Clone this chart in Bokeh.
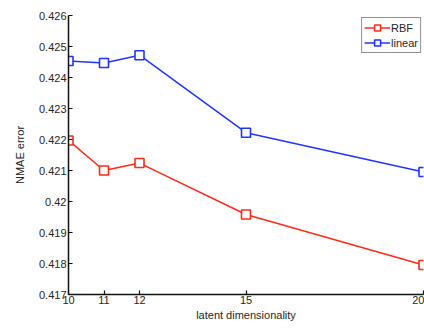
from bokeh.plotting import figure
from bokeh.models import FixedTicker, Range1d
from bokeh.embed import file_html
from bokeh.resources import INLINE

# latent dimensionality vs. NMAE error for two kernels
dims = [10, 11, 12, 15, 20]
rbf_err = [0.42197, 0.42100, 0.42124, 0.41958, 0.41795]
linear_err = [0.42453, 0.42447, 0.42472, 0.42222, 0.42095]

xtick_vals = [10, 11, 12, 15, 20]
xtick_labels = ["10", "11", "12", "15", "20"]
ytick_vals = [0.417, 0.418, 0.419, 0.42, 0.421, 0.422, 0.423, 0.424, 0.425, 0.426]
ytick_labels = ["0.417", "0.418", "0.419", "0.42", "0.421", "0.422", "0.423", "0.424", "0.425", "0.426"]

RED = "#ff2a1a"
BLUE = "#1f35ff"
FONT = "Liberation Sans"
TXT = "#262626"

p = figure(width=424, height=328, output_backend="svg", toolbar_location=None,
           x_range=Range1d(10, 20), y_range=Range1d(0.417, 0.426),
           min_border_left=68, min_border_right=1, min_border_top=15, min_border_bottom=34)
p.outline_line_color = None
p.grid.visible = False
p.background_fill_color = "white"
p.border_fill_color = "white"

for ax in (p.xaxis[0], p.yaxis[0]):
    ax.axis_line_color = "#111111"
    ax.axis_line_width = 1.5
    ax.major_tick_line_color = "#111111"
    ax.major_tick_line_width = 1.2
    ax.major_tick_in = 4
    ax.major_tick_out = 0
    ax.minor_tick_line_color = None
    ax.major_label_text_font = FONT
    ax.major_label_text_font_size = "11px"
    ax.major_label_text_color = TXT
    ax.axis_label_text_font = FONT
    ax.axis_label_text_font_size = "11px"
    ax.axis_label_text_font_style = "normal"
    ax.axis_label_text_color = TXT

p.xaxis.ticker = FixedTicker(ticks=xtick_vals)
p.xaxis.major_label_overrides = dict(zip(xtick_vals, xtick_labels))
p.xaxis.axis_label = "latent dimensionality"
p.xaxis.major_label_standoff = 1
p.xaxis.axis_label_standoff = 2

p.yaxis.ticker = FixedTicker(ticks=ytick_vals)
p.yaxis.major_label_overrides = dict(zip(ytick_vals, ytick_labels))
p.yaxis.axis_label = "NMAE error"
p.yaxis.major_label_standoff = 2
p.yaxis.axis_label_standoff = 10

for ys, color, name in ((rbf_err, RED, "RBF"), (linear_err, BLUE, "linear")):
    p.line(dims, ys, line_color=color, line_width=1.5, legend_label=name)
    p.scatter(dims, ys, marker="square", size=9, line_color=color, line_width=1.6,
              fill_color="white", legend_label=name)

lg = p.legend[0]
lg.location = "top_right"
lg.margin = 2
lg.padding = 2
lg.spacing = 0
lg.glyph_width = 26
lg.glyph_height = 15
lg.label_standoff = 1
lg.label_height = 15
lg.label_text_font = FONT
lg.label_text_font_size = "11px"
lg.label_text_color = TXT
lg.border_line_color = "#222222"
lg.border_line_width = 1.5
lg.background_fill_alpha = 1.0

open("out.html", "w").write(file_html(p, INLINE))
